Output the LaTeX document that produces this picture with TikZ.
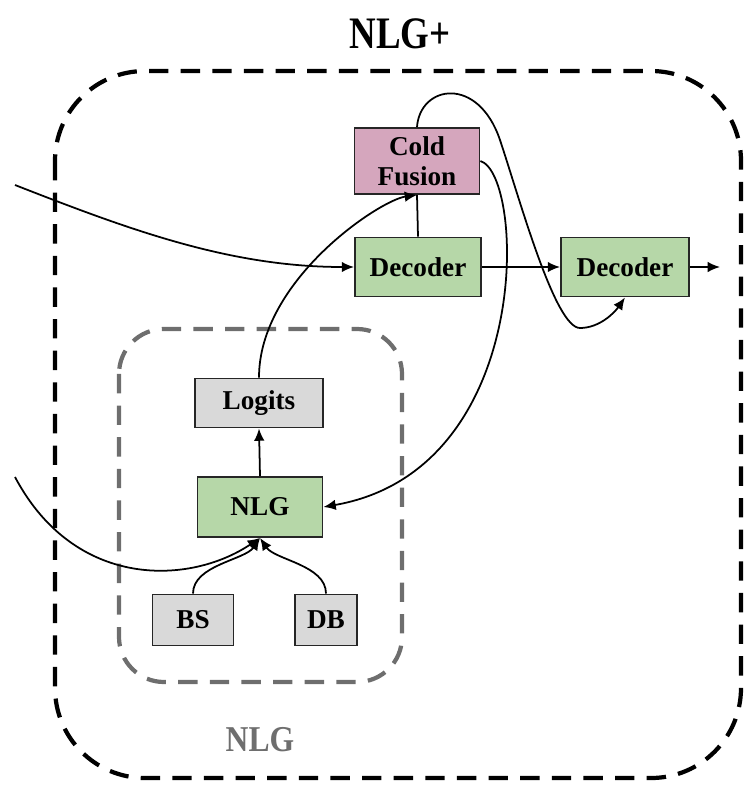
\documentclass[tikz,border=0pt]{standalone}
\usepackage{fontspec}
\setmainfont{Liberation Serif}
\usetikzlibrary{arrows.meta}
\definecolor{boxgreen}{HTML}{B6D7A8}
\definecolor{boxpink}{HTML}{D5A6BD}
\definecolor{boxgray}{HTML}{D9D9D9}
\definecolor{framegray}{RGB}{110,110,110}
\tikzset{
  block/.style={draw=black!85, line width=1.1pt, align=center, inner sep=0pt,
    font=\fontsize{15.5}{17}\selectfont\bfseries},
  greenblock/.style={block, fill=boxgreen},
  pinkblock/.style={block, fill=boxpink},
  grayblock/.style={block, fill=boxgray},
  link/.style={line width=1pt, -{Latex[length=7pt,width=6pt]}},
  plainlink/.style={line width=1pt},
  outerframe/.style={line width=2.4pt, dash pattern=on 11pt off 7pt, rounded corners=1.8cm},
  innerframe/.style={draw=framegray, line width=2.4pt, dash pattern=on 11pt off 7pt, rounded corners=0.9cm}
}
\begin{document}
\begin{tikzpicture}[x=0.02cm,y=-0.02cm]
\useasboundingbox (0,0) rectangle (744,785);

% frames
\draw[outerframe] (55,71) rectangle (741,778);
\draw[innerframe] (119,329) rectangle (402,682);
\node (title) at (400,34) {\scalebox{1}[1.22]{\fontsize{21}{21}\selectfont\bfseries NLG+}};
\node[text=framegray] (innerlabel) at (260,740) {\scalebox{1}[1.15]{\fontsize{18}{18}\selectfont\bfseries NLG}};

% blocks
\node[pinkblock, minimum width=2.5cm, minimum height=1.32cm] (cf) at (417,161) {Cold\\Fusion};
\node[greenblock, minimum width=2.52cm, minimum height=1.18cm] (dec1) at (418,267) {Decoder};
\node[greenblock, minimum width=2.56cm, minimum height=1.18cm] (dec2) at (625,267) {Decoder};
\node[grayblock, minimum width=2.56cm, minimum height=0.98cm] (logits) at (259,403) {Logits};
\node[greenblock, minimum width=2.5cm, minimum height=1.2cm] (nlg) at (260,507) {NLG};
\node[grayblock, minimum width=1.62cm, minimum height=1.02cm] (bs) at (193,620) {BS};
\node[grayblock, minimum width=1.24cm, minimum height=1.02cm] (db) at (326,620) {DB};

% free ends
\coordinate (inA) at (15,185);
\coordinate (inB) at (15,477);
\coordinate (out) at (720,267);

% connectors
\draw[link] (inA) .. controls (130,230) and (230,267) .. (dec1.west);
\draw[link] (inB) .. controls (75,590) and (190,585) .. (nlg.south);
\draw[link] (bs.north) .. controls (193,565) and (245,560) .. (nlg.south);
\draw[link] (db.north) .. controls (326,565) and (275,560) .. (nlg.south);
\draw[link] (nlg.north) -- (logits.south);
\draw[plainlink] (dec1.north) -- (cf.south);
\draw[link] (logits.north) .. controls (259,280) and (380,200) .. (cf.south);
\draw[link] (dec1.east) -- (dec2.west);
\draw[link] (dec2.east) -- (out);
\draw[link] (cf.east) .. controls (525,175) and (535,470) .. (nlg.east);
\draw[link] (cf.north) .. controls (420,85) and (478,75) .. (500,140)
  .. controls (520,200) and (555,328) .. (580,328)
  .. controls (600,328) and (615,312) .. (dec2.south);
\end{tikzpicture}
\end{document}
